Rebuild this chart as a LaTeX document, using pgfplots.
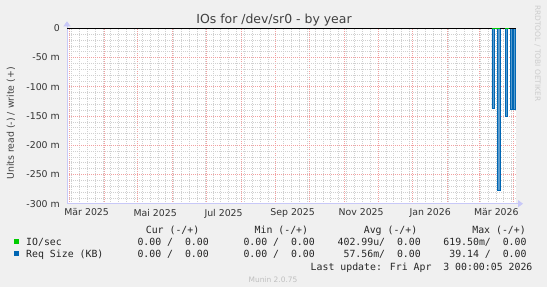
\documentclass[border=0pt]{standalone}
\usepackage{fontspec}
\setmainfont{DejaVu Sans}
\newfontfamily\monofont{DejaVu Sans Mono}
\usepackage{pgfplots}
\pgfplotsset{compat=1.18}
\usetikzlibrary{arrows.meta}
\definecolor{bgc}{HTML}{F0F0F0}
\definecolor{mblue}{HTML}{0066B3}
\definecolor{mgreen}{HTML}{00CC00}
\definecolor{majgrid}{HTML}{F2A0A0}
\definecolor{mingrid}{HTML}{D0D0D0}
\definecolor{axcol}{HTML}{C8C8F8}
\begin{document}
\begin{tikzpicture}[x=1bp,y=1bp]
\useasboundingbox (0,0) rectangle (547,287);
\fill[bgc] (0,0) rectangle (547,287);
\begin{axis}[
  at={(67bp,83.3bp)}, anchor=south west,
  scale only axis, width=449bp, height=175.4bp,
  xmin=0, xmax=400, ymin=-300, ymax=0,
  clip=false,
  axis background/.style={fill=white},
  axis lines=left,
  x axis line style={draw=axcol, line width=0.8bp, -{Triangle[length=5bp,width=7bp]}, shorten >=-7bp},
  y axis line style={draw=axcol, line width=0.8bp, -{Triangle[length=5bp,width=7bp]}, shorten >=-7bp},
  ytick={-300,-250,-200,-150,-100,-50,0},
  yticklabels={-300 m,-250 m,-200 m,-150 m,-100 m,-50 m,0},
  minor y tick num=4,
  xtick={2,33,63,94,124,155,186,216,247,277,308,339,367,398},
  xticklabels={},
  minor xtick={4,11,...,397},
  extra x ticks={17.5,78.5,139.5,201,262,323.5,382.5},
  extra x tick labels={Mär 2025,Mai 2025,Jul 2025,Sep 2025,Nov 2025,Jan 2026,Mär 2026},
  extra x tick style={grid=none, major tick length=0pt},
  grid=both,
  major grid style={draw=majgrid, dash pattern=on 1bp off 1bp, line width=0.6bp},
  minor grid style={draw=mingrid, dash pattern=on 1bp off 1bp, line width=0.6bp},
  major tick length=0pt, minor tick length=0pt,
  tick label style={font=\fontsize{9.4}{11}\selectfont, text=black!80},
  yticklabel style={anchor=east, inner sep=0pt, xshift=-7bp},
  xticklabel style={anchor=north, inner sep=0pt, yshift=-5bp},
]
\addplot[const plot mark left, draw=mblue, line width=0.7bp, fill=mblue!65!white] coordinates {
  (0,0) (378.6,-137) (380.4,0) (383.1,-278) (385.7,0) (390.2,-151) (392,0)
  (394.7,-139) (396.4,0) (397.3,-138) (399,0) (400,0)};
\addplot[black, line width=1bp] coordinates {(0,0) (400,0)};
\addplot[mgreen, line width=1.2bp] coordinates {(378.6,0) (385.7,0)};
\addplot[mgreen, line width=1.2bp] coordinates {(390.2,0) (393.5,0)};
\end{axis}
\node[font=\fontsize{12.5}{14}\selectfont, text=black!75, anchor=base] at (274,264) {IOs for /dev/sr0 - by year};
\node[rotate=90, font=\fontsize{9.4}{11}\selectfont, text=black!75] at (11,163.5) {Units read (-) / write (+)};
\node[rotate=-90, anchor=base west, font=\fontsize{7.5}{9}\selectfont, text=black!20, inner sep=0pt] at (535,282) {RRDTOOL / TOBI OETIKER};
\node[font=\fontsize{7.5}{9}\selectfont, text=black!25] at (273,7.5) {Munin 2.0.75};
\begin{scope}[every node/.style={font=\monofont\fontsize{9.9}{12}\selectfont, text=black!85, inner sep=0pt}]
\node[anchor=base east] at (199.5,54) {Cur (-/+)};
\node[anchor=base east] at (308.3,54) {Min (-/+)};
\node[anchor=base east] at (417.5,54) {Avg (-/+)};
\node[anchor=base east] at (526,54) {Max (-/+)};
\fill[mgreen] (14,43.2) rectangle (19.2,48.4);
\node[anchor=base west] at (26,41.7) {IO/sec};
\node[anchor=base east] at (209,41.7) {0.00 /\ \ 0.00};
\node[anchor=base east] at (315,41.7) {0.00 /\ \ 0.00};
\node[anchor=base east] at (421,41.7) {402.99u/\ \ 0.00};
\node[anchor=base east] at (526.7,41.7) {619.50m/\ \ 0.00};
\fill[mblue] (14,30.9) rectangle (19.2,36.1);
\node[anchor=base west] at (26,29.4) {Req Size (KB)};
\node[anchor=base east] at (209,29.4) {0.00 /\ \ 0.00};
\node[anchor=base east] at (315,29.4) {0.00 /\ \ 0.00};
\node[anchor=base east] at (421,29.4) {57.56m/\ \ 0.00};
\node[anchor=base east] at (526.7,29.4) {39.14 /\ \ 0.00};
\node[anchor=base east] at (532.6,17) {Last update: Fri Apr\ \ 3 00:00:05 2026};
\end{scope}
\end{tikzpicture}
\end{document}
